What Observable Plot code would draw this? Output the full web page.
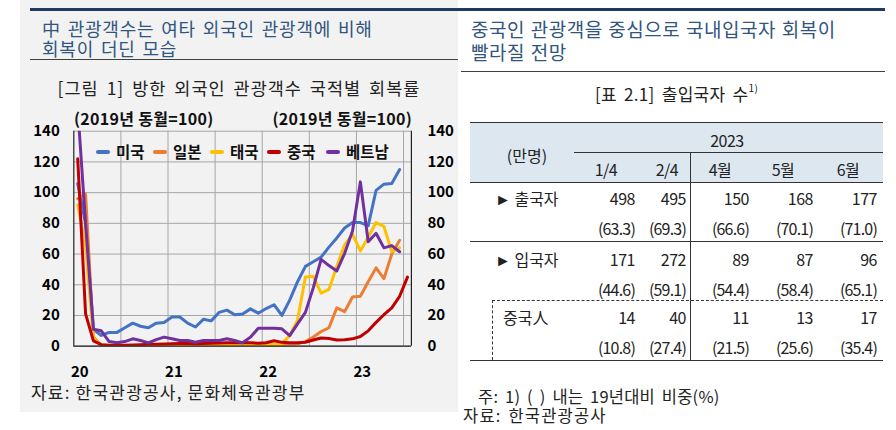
<!DOCTYPE html>
<html><head><meta charset="utf-8">
<script src="https://cdn.jsdelivr.net/npm/d3@7"></script>
<script src="https://cdn.jsdelivr.net/npm/@observablehq/plot@0.6"></script>
<style>
body{margin:0;width:896px;height:430px;position:relative;background:#fff;font-family:"Noto Sans CJK KR","Noto Sans",sans-serif;overflow:hidden;color:#222}
.abs{position:absolute;white-space:nowrap}
</style></head><body>
<script>
// ---------- chart data ----------
const months = [
 "2020-01","2020-02","2020-03","2020-04","2020-05","2020-06","2020-07","2020-08","2020-09","2020-10","2020-11","2020-12",
 "2021-01","2021-02","2021-03","2021-04","2021-05","2021-06","2021-07","2021-08","2021-09","2021-10","2021-11","2021-12",
 "2022-01","2022-02","2022-03","2022-04","2022-05","2022-06","2022-07","2022-08","2022-09","2022-10","2022-11","2022-12",
 "2023-01","2023-02","2023-03","2023-04","2023-05","2023-06","2023-07"];
const seriesNames = ["미국","일본","태국","중국","베트남"];
const seriesColors = ["#4472c4","#ed7d31","#ffc000","#c00000","#7030a0"];
const usa = [106,80,11,7,9,9,12,15,13,12,15,15.5, 19,19,15,12.5,17.5,16.5,22,23.5,20.5,21,24.3,21.5, 24.5,27,20,30,42,52,55,58,64.5,70.5,77,80.5, 80.5,78.5,101.5,105.5,106,115,null];
const japan = [96,99,6,0.5,0.3,0.3,0.4,0.5,0.5,0.6,0.7,0.6, 0.5,0.6,0.7,0.7,0.8,0.7,0.8,0.9,0.8,0.9,1.0,0.9, 0.8,0.9,1.0,1.2,1.5,3,6,9.5,12,25,22.5,32, 32.5,42,51,44,60,69,null];
const thailand = [92,65,5,1,0.5,0.4,0.4,0.5,0.5,0.4,0.5,0.5, 0.4,0.4,0.5,0.5,0.6,0.5,0.6,0.7,0.7,0.8,1.0,0.9, 1.0,1.2,1.5,7,17,45,45.5,34.5,37,52,66,73, 62,71,80.5,78,61.5,64,null];
const china = [122,21,3.5,1,0.6,0.6,0.7,0.8,1.0,1.2,1.3,1.5, 1.6,1.7,1.8,1.6,1.7,1.9,2.1,2.3,2.2,2.4,2.2,2.0, 2.3,3.5,2.5,2.2,2.2,2.6,4,5.3,5,4,4.2,4.8, 6.3,10,15.5,20.5,25,32.5,45];
const vietnam = [155,80,11,10,3,2.2,3,4.8,3.7,2.2,4.3,5.9, 4.8,3.7,3.7,2.6,3.7,3.7,3.7,4.8,3.7,2.2,5.9,11.7, 11.7,11.7,11.3,6.9,14.5,22,38,56.5,52.5,49,60.5,75, 107,68,73.5,64,65.5,61.5,null];
const seriesValues = [usa, japan, thailand, china, vietnam];
const yTicks = [0,20,40,60,80,100,120,140];
const yearLabels = ["20","21","22","23"];

// ---------- table data ----------
const tableYear = "2023";
const unitLabel = "(만명)";
const periods = ["1/4","2/4","4월","5월","6월"];
const rowLabels = ["► 출국자","► 입국자","중국人"];
const outbound = ["498","495","150","168","177"];
const outboundPct = ["63.3","69.3","66.6","70.1","71.0"];
const inbound = ["171","272","89","87","96"];
const inboundPct = ["44.6","59.1","54.4","58.4","65.1"];
const chinese = ["14","40","11","13","17"];
const chinesePct = ["10.8","27.4","21.5","25.6","35.4"];

// ---------- helpers ----------
function box(html, css){ const d=document.createElement("div"); d.className="abs"; d.innerHTML=html; Object.assign(d.style, css); document.body.appendChild(d); return d; }

// panels & rules
box("", {left:"20px",top:"0px",width:"438px",height:"412px",background:"#f2f2f2"});
box("", {left:"30px",top:"8px",width:"855px",height:"3px",background:"#1f3a5f"});
box("", {left:"30px",top:"59px",width:"428px",height:"1px",background:"#404040"});
box("", {left:"461px",top:"71px",width:"424px",height:"1px",background:"#404040"});

// titles
const ttl = {fontSize:"18px",lineHeight:"18px",color:"#30557e",wordSpacing:"2px",letterSpacing:"0.8px"};
box("中 관광객수는 여타 외국인 관광객에 비해", {...ttl, left:"42px", top:"19px"});
box("회복이 더딘 모습", {...ttl, left:"42px", top:"38.5px"});
const ttr = {fontSize:"19px",lineHeight:"19px",color:"#30557e",wordSpacing:"1px",letterSpacing:"0.5px"};
box("중국인 관광객을 중심으로 국내입국자 회복이", {...ttr, left:"471px", top:"18.5px"});
box("빨라질 전망", {...ttr, left:"471px", top:"42px"});
box("[그림 1] 방한 외국인 관광객수 국적별 회복률", {left:"20px",width:"438px",textAlign:"center",top:"78px",fontSize:"17.5px",lineHeight:"20px",color:"#222",letterSpacing:"1px",wordSpacing:"3px"});
const unitCss = {top:"108px",fontSize:"16px",fontWeight:"bold",lineHeight:"20px",color:"#111",letterSpacing:"0.3px"};
box("(2019년 동월=100)", {...unitCss, left:"74px"});
box("(2019년 동월=100)", {...unitCss, left:"252px",width:"160px",textAlign:"right"});
box("자료: 한국관광공사, 문화체육관광부", {left:"31px",top:"382px",fontSize:"17px",lineHeight:"20px",color:"#222",letterSpacing:"1.2px"});

// ---------- chart ----------
const rows = [];
seriesNames.forEach((name, s) => seriesValues[s].forEach((v, i) => { if (v != null) rows.push({i, v, name}); }));
const janIdx = months.map((m, i) => m.endsWith("-01") ? i : -1).filter(i => i >= 0);
const boundaries = months.map((m, i) => i).filter(i => i > 0 && i % 6 === 0).map(i => i - 0.5);

const chart = Plot.plot({
  width: 438, height: 280,
  marginLeft: 53.3, marginRight: 47.1, marginTop: 30.7, marginBottom: 34.3,
  x: {type: "linear", domain: [-0.5, months.length - 0.5]},
  y: {domain: [0, 140]},
  color: {domain: seriesNames, range: seriesColors},
  style: {background: "transparent", fontFamily: "Noto Sans CJK KR", color: "#000", overflow: "visible"},
  marks: [
    Plot.gridY(yTicks, {stroke: "#a6a6a6", strokeOpacity: 1, strokeWidth: 1}),
    Plot.ruleX(boundaries, {stroke: "#a6a6a6", strokeWidth: 1}),
    ...seriesNames.map((name) => Plot.line(rows.filter(r => r.name === name), {
      x: "i", y: "v", stroke: "name", strokeWidth: 3, strokeLinejoin: "round", strokeLinecap: "round", clip: true
    })),
    Plot.ruleX([-0.5, months.length - 0.5], {stroke: "#222", strokeWidth: 1.2}),
    Plot.ruleY([0], {stroke: "#222", strokeWidth: 1.2}),
    Plot.axisY(yTicks, {anchor: "left", tickSize: 0, tickPadding: 14, fontSize: 15, fontWeight: "bold", label: null}),
    Plot.axisY(yTicks, {anchor: "right", tickSize: 0, tickPadding: 16, fontSize: 15, fontWeight: "bold", label: null}),
    Plot.axisX(janIdx, {tickSize: 0, tickPadding: 20, dx: 2, fontSize: 15, fontWeight: "bold", label: null,
      tickFormat: d => yearLabels[janIdx.indexOf(d)]})
  ]
});
chart.style.position = "absolute"; chart.style.left = "20px"; chart.style.top = "100px";
document.body.appendChild(chart);

// legend (inside plot area)
const legendLefts = [96, 153, 210, 267, 326];
seriesNames.forEach((name, s) => {
  box(`<span style="display:inline-block;width:14px;height:4px;border-radius:2px;background:${seriesColors[s]};vertical-align:middle;margin-right:6px;position:relative;top:-2px"></span>${name}`,
    {left: legendLefts[s] + "px", top: "141px", fontSize: "15.5px", fontWeight: "bold", lineHeight: "20px", color: "#111"});
});

// ---------- table ----------
const tL = 470, tR = 883;
box("", {left:tL+"px",top:"123px",width:(tR-tL)+"px",height:"60px",background:"#dde7f0"});
box("", {left:tL+"px",top:"122px",width:(tR-tL)+"px",height:"1px",background:"#333"});
box("", {left:"574px",top:"152px",width:(tR-574)+"px",height:"1px",background:"#333"});
box("", {left:tL+"px",top:"182px",width:(tR-tL)+"px",height:"1px",background:"#333"});
box("", {left:tL+"px",top:"241px",width:(tR-tL)+"px",height:"1px",background:"#333"});
box("", {left:"492px",top:"300px",width:(tR-492)+"px",height:"0px",borderTop:"1px dashed #333"});
box("", {left:"492px",top:"300px",width:"0px",height:"60px",borderLeft:"1px dashed #333"});
box("", {left:tL+"px",top:"360px",width:(tR-tL)+"px",height:"1px",background:"#333"});
box("", {left:"690px",top:"152px",width:"1px",height:"208px",background:"#333"});

box(`[표 2.1] 출입국자 수<sup style="font-size:10px;position:relative;top:-2px">1)</sup>`, {left:"595px",top:"80px",fontSize:"17px",lineHeight:"20px",wordSpacing:"3px",letterSpacing:"0.3px"});
box(unitLabel, {left:"480px",width:"94px",textAlign:"center",top:"144px",fontSize:"16px",lineHeight:"22px"});
box(tableYear, {left:"690px",width:"74px",textAlign:"center",top:"129px",fontSize:"16px",lineHeight:"22px",letterSpacing:"-0.5px"});
const headCenters = [606, 667, 720, 783, 848];
periods.forEach((p, k) => box(p, {left:(headCenters[k]-40)+"px",width:"80px",textAlign:"center",top:"158px",fontSize:"16px",lineHeight:"22px",letterSpacing:"-0.5px"}));

const colRights = [635, 686, 749, 813, 877];
const tableRows = [[outbound, outboundPct], [inbound, inboundPct], [chinese, chinesePct]];
const rowCenters = [198, 259, 317];
const labelLefts = [495, 495, 503];
tableRows.forEach(([vals, pcts], r) => {
  const cy = rowCenters[r];
  box(rowLabels[r], {left:labelLefts[r]+"px",top:(cy-11)+"px",fontSize:"16px",lineHeight:"22px"});
  vals.forEach((v, k) => box(v, {left:(colRights[k]-80)+"px",width:"80px",textAlign:"right",top:(cy-11)+"px",fontSize:"16px",lineHeight:"22px",letterSpacing:"-0.5px"}));
  pcts.forEach((v, k) => box("(" + v + ")", {left:(colRights[k]-80)+"px",width:"80px",textAlign:"right",top:(cy+30-11)+"px",fontSize:"16px",lineHeight:"22px",letterSpacing:"-0.8px"}));
});

box("주: 1) ( ) 내는 19년대비 비중(%)", {left:"478px",top:"387px",fontSize:"16.5px",lineHeight:"18px",letterSpacing:"0.2px",wordSpacing:"3px"});
box("자료: 한국관광공사", {left:"463px",top:"406px",fontSize:"16.5px",lineHeight:"18px",wordSpacing:"2px",letterSpacing:"1.2px"});
</script>
</body></html>
